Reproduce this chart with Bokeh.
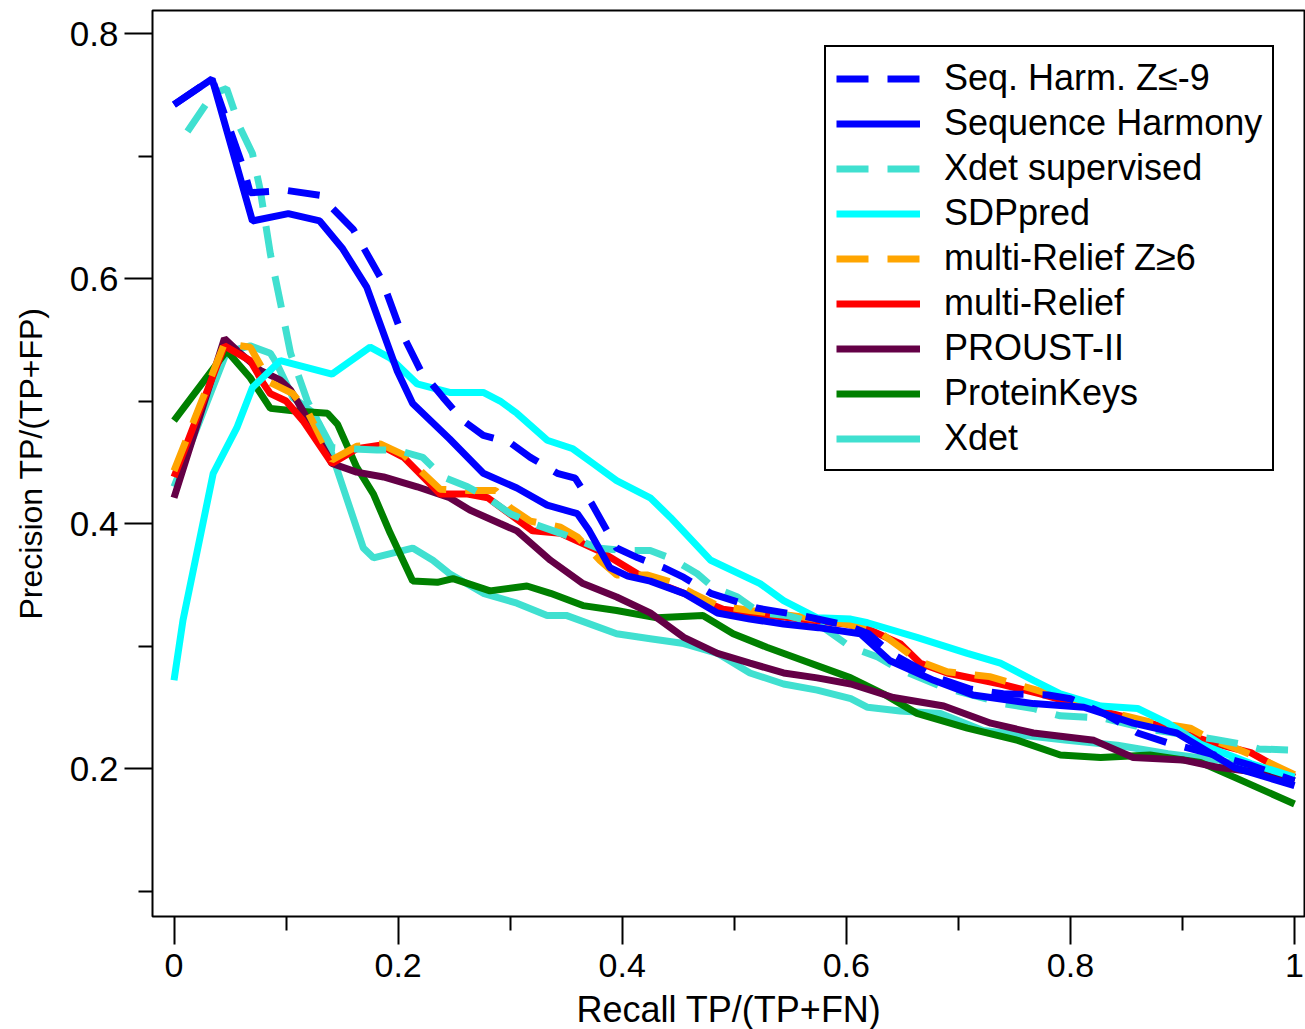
from bokeh.plotting import figure
from bokeh.models import Range1d, FixedTicker, Legend, LegendItem
from bokeh.embed import file_html
from bokeh.resources import INLINE

# Precision / recall curves for each method
seq_harm_z_x = [0, 0.034, 0.062, 0.068, 0.10, 0.13, 0.16, 0.186, 0.202, 0.22, 0.24, 0.258, 0.276,
                0.30, 0.318, 0.342, 0.358, 0.373, 0.395, 0.414, 0.437, 0.455, 0.479, 0.52, 0.559,
                0.60, 0.62, 0.64, 0.678, 0.71, 0.74, 0.78, 0.80, 0.83, 0.86, 0.887, 0.925, 0.96, 1.0]
seq_harm_z_y = [0.742, 0.763, 0.69, 0.67, 0.672, 0.668, 0.64, 0.598, 0.558, 0.525, 0.503, 0.484, 0.472,
                0.466, 0.454, 0.441, 0.437, 0.416, 0.38, 0.372, 0.364, 0.356, 0.343, 0.331, 0.325,
                0.317, 0.31, 0.294, 0.275, 0.265, 0.261, 0.26, 0.257, 0.245, 0.229, 0.221, 0.212, 0.203, 0.19]

seq_harm_x = [0, 0.034, 0.07, 0.102, 0.13, 0.15, 0.172, 0.199, 0.213, 0.246, 0.276, 0.306, 0.333,
              0.36, 0.37, 0.389, 0.405, 0.425, 0.455, 0.485, 0.514, 0.544, 0.575, 0.6125, 0.639,
              0.678, 0.713, 0.767, 0.812, 0.856, 0.895, 0.946, 1.0]
seq_harm_y = [0.742, 0.763, 0.647, 0.653, 0.647, 0.625, 0.593, 0.525, 0.498, 0.469, 0.441, 0.429, 0.415,
              0.408, 0.395, 0.364, 0.357, 0.353, 0.343, 0.327, 0.322, 0.318, 0.315, 0.31, 0.288,
              0.272, 0.26, 0.253, 0.25, 0.237, 0.229, 0.201, 0.186]

xdet_sup_x = [0.012, 0.035, 0.047, 0.059, 0.07, 0.077, 0.086, 0.095, 0.104, 0.119, 0.128, 0.141,
              0.157, 0.181, 0.199, 0.222, 0.24, 0.262, 0.28, 0.30, 0.32, 0.345, 0.3625, 0.378, 0.40,
              0.425, 0.445, 0.467, 0.481, 0.503, 0.523, 0.547, 0.575, 0.604, 0.628, 0.645, 0.687,
              0.70, 0.74, 0.767, 0.791, 0.83, 0.87, 0.90, 0.928, 0.952, 0.968, 1.0]
xdet_sup_y = [0.72, 0.751, 0.755, 0.723, 0.702, 0.672, 0.62, 0.58, 0.539, 0.50, 0.484, 0.462,
              0.461, 0.46, 0.46, 0.454, 0.438, 0.43, 0.421, 0.408, 0.40, 0.392, 0.386, 0.38, 0.378,
              0.378, 0.371, 0.359, 0.348, 0.34, 0.327, 0.325, 0.318, 0.299, 0.291, 0.282, 0.266,
              0.263, 0.253, 0.249, 0.243, 0.241, 0.232, 0.228, 0.224, 0.22, 0.216, 0.215]

sdppred_x = [0, 0.008, 0.035, 0.056, 0.07, 0.095, 0.141, 0.175, 0.193, 0.217, 0.246, 0.276, 0.291,
             0.306, 0.333, 0.356, 0.374, 0.395, 0.425, 0.443, 0.479, 0.523, 0.544, 0.574, 0.604,
             0.619, 0.663, 0.708, 0.7375, 0.767, 0.791, 0.827, 0.86, 0.887, 0.916, 0.961, 1.0]
sdppred_y = [0.272, 0.321, 0.441, 0.478, 0.511, 0.533, 0.522, 0.544, 0.535, 0.514, 0.507, 0.507, 0.50,
             0.49, 0.468, 0.461, 0.449, 0.435, 0.421, 0.405, 0.37, 0.351, 0.337, 0.323, 0.322,
             0.319, 0.307, 0.294, 0.286, 0.272, 0.261, 0.251, 0.249, 0.237, 0.22, 0.204, 0.193]

mrelief_z_x = [0, 0.045, 0.068, 0.086, 0.106, 0.12, 0.141, 0.163, 0.184, 0.205, 0.2375, 0.262, 0.287,
               0.30, 0.318, 0.345, 0.36, 0.38, 0.395, 0.422, 0.444, 0.463, 0.485, 0.514, 0.559, 0.60,
               0.627, 0.648, 0.664, 0.69, 0.728, 0.77, 0.827, 0.871, 0.907, 0.925, 0.949, 0.972, 1.0]
mrelief_z_y = [0.443, 0.547, 0.544, 0.515, 0.506, 0.49, 0.452, 0.463, 0.465, 0.456, 0.428, 0.427, 0.427,
               0.413, 0.402, 0.397, 0.389, 0.37, 0.358, 0.358, 0.352, 0.343, 0.333, 0.329, 0.324, 0.318,
               0.313, 0.299, 0.288, 0.279, 0.275, 0.264, 0.248, 0.238, 0.233, 0.224, 0.216, 0.207, 0.195]

mrelief_x = [0, 0.045, 0.068, 0.08, 0.086, 0.10, 0.115, 0.141, 0.163, 0.184, 0.205, 0.2375, 0.262,
             0.28, 0.32, 0.345, 0.383, 0.419, 0.455, 0.49, 0.514, 0.559, 0.60, 0.619, 0.648, 0.666,
             0.69, 0.7375, 0.773, 0.827, 0.871, 0.90, 0.931, 0.961, 0.99, 1.0]
mrelief_y = [0.438, 0.545, 0.533, 0.514, 0.506, 0.50, 0.484, 0.449, 0.461, 0.464, 0.454, 0.424, 0.424,
             0.421, 0.394, 0.392, 0.376, 0.356, 0.343, 0.33, 0.327, 0.322, 0.318, 0.314, 0.302, 0.286,
             0.278, 0.269, 0.261, 0.247, 0.237, 0.229, 0.22, 0.213, 0.198, 0.193]

proust_x = [0, 0.045, 0.059, 0.077, 0.095, 0.104, 0.115, 0.141, 0.163, 0.187, 0.217, 0.246, 0.264,
            0.291, 0.306, 0.336, 0.365, 0.395, 0.425, 0.455, 0.485, 0.514, 0.544, 0.574, 0.604,
            0.642, 0.687, 0.729, 0.767, 0.821, 0.856, 0.90, 0.931, 0.976, 1.0]
proust_y = [0.421, 0.551, 0.539, 0.525, 0.517, 0.509, 0.492, 0.449, 0.442, 0.438, 0.43, 0.421, 0.411,
            0.40, 0.394, 0.37, 0.351, 0.34, 0.327, 0.307, 0.294, 0.286, 0.278, 0.274, 0.269,
            0.258, 0.251, 0.237, 0.229, 0.223, 0.209, 0.207, 0.201, 0.196, 0.19]

pkeys_x = [0, 0.047, 0.068, 0.086, 0.106, 0.137, 0.146, 0.163, 0.178, 0.193, 0.213, 0.235, 0.249,
           0.282, 0.315, 0.336, 0.365, 0.395, 0.431, 0.472, 0.499, 0.529, 0.559, 0.604, 0.633, 0.663,
           0.708, 0.753, 0.791, 0.827, 0.871, 0.916, 0.946, 1.0]
pkeys_y = [0.484, 0.541, 0.519, 0.494, 0.492, 0.49, 0.481, 0.446, 0.424, 0.392, 0.353, 0.352, 0.355,
           0.345, 0.349, 0.343, 0.333, 0.329, 0.323, 0.325, 0.31, 0.299, 0.289, 0.274, 0.261, 0.245,
           0.233, 0.223, 0.211, 0.209, 0.211, 0.205, 0.193, 0.171]

xdet_x = [0, 0.047, 0.068, 0.086, 0.092, 0.106, 0.125, 0.139, 0.151, 0.169, 0.178, 0.213, 0.231,
          0.246, 0.276, 0.306, 0.333, 0.35, 0.395, 0.425, 0.455, 0.485, 0.514, 0.544, 0.574, 0.604,
          0.619, 0.648, 0.684, 0.722, 0.797, 0.842, 0.887, 0.931, 0.961, 1.0]
xdet_y = [0.43, 0.54, 0.545, 0.539, 0.53, 0.503, 0.49, 0.462, 0.429, 0.38, 0.372, 0.38, 0.37,
          0.359, 0.343, 0.335, 0.325, 0.325, 0.31, 0.306, 0.302, 0.294, 0.278, 0.269, 0.264, 0.257,
          0.25, 0.247, 0.245, 0.231, 0.223, 0.219, 0.212, 0.207, 0.201, 0.19]

x_ticks = [0, 0.2, 0.4, 0.6, 0.8, 1.0]
x_tick_labels = ["0", "0.2", "0.4", "0.6", "0.8", "1"]
x_minor = [0.1, 0.3, 0.5, 0.7, 0.9]
y_ticks = [0.2, 0.4, 0.6, 0.8]
y_tick_labels = ["0.2", "0.4", "0.6", "0.8"]
y_minor = [0.1, 0.3, 0.5, 0.7]

FONT = "Liberation Sans"

p = figure(frame_width=1153, frame_height=906,
           x_range=Range1d(-0.0192, 1.0098), y_range=Range1d(0.0792, 0.8188),
           output_backend="svg", toolbar_location=None,
           min_border_left=152, min_border_right=0, min_border_top=10, min_border_bottom=113)

p.background_fill_color = "white"
p.border_fill_color = "white"
p.outline_line_color = "black"
p.outline_line_width = 2
p.xgrid.visible = False
p.ygrid.visible = False

for ax in (p.xaxis[0], p.yaxis[0]):
    ax.axis_line_color = None
    ax.major_tick_in = 0
    ax.major_tick_out = 28
    ax.minor_tick_in = 0
    ax.minor_tick_out = 14
    ax.major_tick_line_color = "black"
    ax.major_tick_line_width = 2
    ax.minor_tick_line_color = "black"
    ax.minor_tick_line_width = 2
    ax.major_label_text_font = FONT
    ax.major_label_text_color = "black"
    ax.axis_label_text_font = FONT
    ax.axis_label_text_font_style = "normal"
    ax.axis_label_text_color = "black"

p.xaxis[0].ticker = FixedTicker(ticks=x_ticks, minor_ticks=x_minor)
p.xaxis[0].major_label_overrides = {t: s for t, s in zip(x_ticks, x_tick_labels)}
p.xaxis[0].major_label_text_font_size = "34px"
p.xaxis[0].major_label_standoff = 9
p.xaxis[0].axis_label = "Recall TP/(TP+FN)"
p.xaxis[0].axis_label_text_font_size = "36px"
p.xaxis[0].axis_label_standoff = 9

p.yaxis[0].ticker = FixedTicker(ticks=y_ticks, minor_ticks=y_minor)
p.yaxis[0].major_label_overrides = {t: s for t, s in zip(y_ticks, y_tick_labels)}
p.yaxis[0].major_label_text_font_size = "35px"
p.yaxis[0].major_label_standoff = 6
p.yaxis[0].axis_label = "Precision TP/(TP+FP)"
p.yaxis[0].axis_label_text_font_size = "32px"
p.yaxis[0].axis_label_standoff = 18

LW = 7
DASH = "32 19"
PURPLE = "#640046"

r_xdet = p.line(xdet_x, xdet_y, line_color="#40E0D0", line_width=LW)
r_pkeys = p.line(pkeys_x, pkeys_y, line_color="#008000", line_width=LW)
r_proust = p.line(proust_x, proust_y, line_color=PURPLE, line_width=LW)
r_mrel = p.line(mrelief_x, mrelief_y, line_color="#FF0000", line_width=LW)
r_mrel_z = p.line(mrelief_z_x, mrelief_z_y, line_color="#FFA500", line_width=LW, line_dash=DASH)
r_sdp = p.line(sdppred_x, sdppred_y, line_color="#00FFFF", line_width=LW)
r_xsup = p.line(xdet_sup_x, xdet_sup_y, line_color="#40E0D0", line_width=LW, line_dash=DASH)
r_sh = p.line(seq_harm_x, seq_harm_y, line_color="#0000FF", line_width=LW)
r_sh_z = p.line(seq_harm_z_x, seq_harm_z_y, line_color="#0000FF", line_width=LW, line_dash=DASH)

items = [
    LegendItem(label="Seq. Harm. Z≤-9", renderers=[r_sh_z]),
    LegendItem(label="Sequence Harmony", renderers=[r_sh]),
    LegendItem(label="Xdet supervised", renderers=[r_xsup]),
    LegendItem(label="SDPpred", renderers=[r_sdp]),
    LegendItem(label="multi-Relief Z≥6", renderers=[r_mrel_z]),
    LegendItem(label="multi-Relief", renderers=[r_mrel]),
    LegendItem(label="PROUST-II", renderers=[r_proust]),
    LegendItem(label="ProteinKeys", renderers=[r_pkeys]),
    LegendItem(label="Xdet", renderers=[r_xdet]),
]
legend = Legend(items=items, location=(672, 445),
                label_text_font=FONT, label_text_font_size="36px", label_text_color="black",
                label_height=41, label_standoff=24, glyph_width=84, glyph_height=41,
                spacing=3, padding=10, margin=0,
                border_line_color="black", border_line_width=2, border_line_alpha=1.0,
                background_fill_color="white", background_fill_alpha=1.0)
p.add_layout(legend, "center")

open("out.html", "w").write(file_html(p, INLINE))
